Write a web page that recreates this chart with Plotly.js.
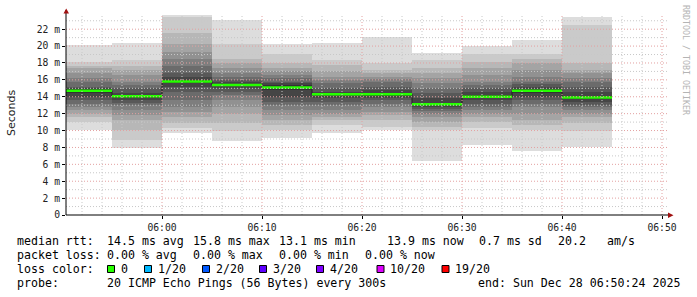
<!DOCTYPE html>
<html><head><meta charset="utf-8">
<script src="https://cdn.plot.ly/plotly-3.0.1.min.js"></script>
<style>html,body{margin:0;padding:0;background:#fff}#chart{width:697px;height:297px}</style>
</head><body><div id="chart"></div>
<script>
// ---- data ----
const blockEnds = ["05:55","06:00","06:05","06:10","06:15","06:20","06:25","06:30","06:35","06:40","06:45"];
const medianRtt = [14.7, 14.05, 15.8, 15.4, 15.1, 14.3, 14.3, 13.1, 14.0, 14.7, 13.9];
const lossCount = [0,0,0,0,0,0,0,0,0,0,0];
// sorted 20 ping round-trip times (ms) per 5-minute step
const pings0555 = [10.1,11.0,11.6,12.0,12.4,12.8,13.2,13.6,14.0,14.4,14.9,15.0,15.2,15.7,16.2,16.8,17.4,17.7,18.1,20.1];
const pings0600 = [7.9,8.9,10.1,11.2,11.8,12.4,13.0,13.3,13.6,13.9,14.2,14.4,15.0,15.4,15.8,16.6,17.2,17.6,18.4,20.4];
const pings0605 = [9.7,10.3,10.9,11.6,12.2,12.8,13.6,14.6,15.2,15.6,16.0,16.4,16.8,17.6,18.5,19.3,20.3,21.5,23.4,23.7];
const pings0610 = [8.8,9.9,10.9,12.0,12.8,13.6,14.2,14.6,15.0,15.3,15.5,15.7,16.0,16.4,16.8,17.4,18.0,18.5,20.3,23.1];
const pings0615 = [9.1,10.1,10.7,11.2,11.8,12.4,13.0,13.4,14.0,14.8,15.4,15.6,15.8,16.2,16.6,17.0,17.4,18.0,19.1,20.2];
const pings0620 = [9.7,10.7,11.2,11.6,12.0,12.4,13.0,13.4,13.8,14.2,14.4,14.6,15.0,15.6,16.0,16.4,17.0,17.8,18.3,20.4];
const pings0625 = [10.1,10.4,11.2,11.8,12.2,12.8,13.2,13.6,13.9,14.1,14.5,14.8,15.2,15.8,16.1,16.4,16.8,17.2,18.0,21.1];
const pings0630 = [6.4,10.1,10.4,11.0,11.6,12.0,12.3,12.6,12.8,13.0,13.2,13.8,14.4,15.0,15.6,16.2,16.8,17.4,18.3,19.2];
const pings0635 = [8.3,10.3,11.0,11.6,12.0,12.4,12.8,13.2,13.6,13.8,14.2,14.6,15.0,15.4,15.8,16.6,17.4,18.1,19.1,20.0];
const pings0640 = [7.6,10.1,10.7,11.2,12.0,12.8,13.2,13.6,14.0,14.5,14.9,15.2,15.5,15.8,16.4,17.2,18.0,18.5,19.1,20.7];
const pings0645 = [8.0,9.9,10.9,11.6,12.0,12.4,12.8,13.0,13.4,13.7,14.1,14.6,15.2,15.7,16.2,16.8,17.2,18.0,22.5,23.4];
const allPings = [pings0555,pings0600,pings0605,pings0610,pings0615,pings0620,pings0625,pings0630,pings0635,pings0640,pings0645];

const yTickVals = [0,2,4,6,8,10,12,14,16,18,20,22];
const yTickText = ["0","2 m","4 m","6 m","8 m","10 m","12 m","14 m","16 m","18 m","20 m","22 m"];
const xTickVals = ["06:00","06:10","06:20","06:30","06:40","06:50"];
const xTickText = ["06:00","06:10","06:20","06:30","06:40","06:50"];
const lossLabels = ["0","1/20","2/20","3/20","4/20","10/20","19/20"];
const lossLevels = [0,1,2,3,4,10,19];
const lossColors = ["#26ff00","#00b8ff","#0059ff","#5e00ff","#7e00ff","#dd00ff","#ff0000"];

const stats = {
  rtt: ["median rtt:","14.5 ms avg","15.8 ms max","13.1 ms min","13.9 ms now","0.7 ms sd","20.2","am/s"],
  loss: ["packet loss:","0.00 % avg","0.00 % max","0.00 % min","0.00 % now"],
  probe: ["probe:","20 ICMP Echo Pings (56 Bytes) every 300s","end: Sun Dec 28 06:50:24 2025"]
};

// ---- helpers ----
const DAY = [2025, 11, 28];
function hm(s){ const [h,m]=s.split(":").map(Number); return Date.UTC(DAY[0],DAY[1],DAY[2],h,m,0); }
function ds(ms){ return new Date(ms).toISOString().replace("T"," ").slice(0,19); }
const STEP = 300000;
const L=66, T=14, W=600, H=201, FW=697, FH=297;
const X = px => (px - L)/W;
const Y = py => (T + H - py)/H;
const xStart = "2025-12-28 05:50:24", xEnd = "2025-12-28 06:50:24";
const yMax = 23.8;

const traces = [];
// smoke layers (outer -> inner)
const half = 10;
for (let k=0;k<half;k++){
  const g = Math.round(190/half*(half-1-k))+50;
  const col = `rgb(${g},${g},${g})`;
  traces.push({
    type:"bar",
    x: blockEnds.map(e=>ds(hm(e)-STEP/2)),
    base: allPings.map(p=>p[k]),
    y: allPings.map(p=>p[19-k]-p[k]),
    width: blockEnds.map(()=>STEP),
    marker:{color:col, line:{width:0}},
    hoverinfo:"skip", showlegend:false
  });
}
// median step line (dark)
const stepX = blockEnds.map(e=>ds(hm(e)-STEP)).concat([ds(hm(blockEnds[blockEnds.length-1]))]);
const stepY = medianRtt.concat([medianRtt[medianRtt.length-1]]);
traces.push({type:"scatter",mode:"lines",x:stepX,y:stepY,line:{shape:"hv",color:"#202020",width:1},hoverinfo:"skip",showlegend:false});
// coloured median segments by loss
lossLevels.forEach((lv,i)=>{
  const xs=[], ys=[];
  blockEnds.forEach((e,b)=>{
    let cat=0; for(let j=0;j<lossLevels.length;j++){ if(lossCount[b]>=lossLevels[j]) cat=j; }
    if(cat===i){ xs.push(ds(hm(e)-STEP), ds(hm(e)), null); ys.push(medianRtt[b], medianRtt[b], null); }
  });
  if(xs.length) traces.push({type:"scatter",mode:"lines",x:xs,y:ys,line:{color:lossColors[i],width:2.5},hoverinfo:"skip",showlegend:false,connectgaps:false});
});

// ---- grid as shapes (drawn on top like rrdtool) ----
const shapes=[];
const minorCol="#c8c8c8", majorCol="#e3a0a0", dash="1px,2px";
for(let v=1; v<=Math.floor(yMax); v++){
  const major = yTickVals.includes(v);
  shapes.push({type:"line",xref:"paper",yref:"y",x0:0,x1:X(669),y0:v,y1:v,layer:"above",line:{color:major?majorCol:minorCol,width:1,dash:dash}});
}
for(let t=hm("05:52"); t<=hm("06:50"); t+=120000){
  const lab = ds(t).slice(11,16);
  const major = xTickVals.includes(lab);
  shapes.push({type:"line",xref:"x",yref:"paper",x0:ds(t),x1:ds(t),y0:0,y1:1,layer:"above",line:{color:major?majorCol:minorCol,width:1,dash:dash}});
}
// axes with arrows
shapes.push({type:"line",xref:"paper",yref:"paper",x0:X(66),x1:X(66),y0:Y(215),y1:Y(10),line:{color:"#000",width:1}});
shapes.push({type:"line",xref:"paper",yref:"paper",x0:X(66),x1:X(670),y0:Y(215),y1:Y(215),line:{color:"#000",width:1}});
shapes.push({type:"path",xref:"paper",yref:"paper",path:`M ${X(63.5)},${Y(13.5)} L ${X(69)},${Y(13.5)} L ${X(66.2)},${Y(8.5)} Z`,fillcolor:"#a01010",line:{width:0}});
shapes.push({type:"path",xref:"paper",yref:"paper",path:`M ${X(668)},${Y(212.5)} L ${X(668)},${Y(218)} L ${X(673.5)},${Y(215.2)} Z`,fillcolor:"#a01010",line:{width:0}});

// ---- text ----
const mono = "DejaVu Sans Mono";
const tf = {family:mono,size:11.6,color:"#000"};
const ann=[];
function txt(s,px,py,font,extra){ ann.push(Object.assign({text:s,xref:"paper",yref:"paper",x:X(px),y:Y(py),xanchor:"left",yanchor:"middle",showarrow:false,font:font||tf,borderpad:0},extra||{})); }
const rttX=[16.7,107.3,193.3,279.3,386.7,479.3,558.3,606.7];
stats.rtt.forEach((s,i)=>txt(s,rttX[i]-1,241));
const lossX=[16.7,107.3,193.3,279.3,365];
stats.loss.forEach((s,i)=>txt(s,lossX[i]-1,255));
txt("loss color:",15.7,269);
const boxX=[107.5,144.5,202.5,259.5,316.5,377,442];
lossLabels.forEach((s,i)=>{
  shapes.push({type:"rect",xref:"paper",yref:"paper",x0:X(boxX[i]),x1:X(boxX[i]+7),y0:Y(272.5),y1:Y(265.5),fillcolor:lossColors[i],line:{color:"#000",width:1}});
  txt(s,boxX[i]+12,269);
});
const probeX=[16.7,107.3,478.3];
stats.probe.forEach((s,i)=>txt(s,probeX[i]-1,283));
ann.push({text:"Seconds",xref:"paper",yref:"paper",x:X(11),y:Y(113),xanchor:"center",yanchor:"middle",textangle:-90,showarrow:false,font:{family:"DejaVu Sans",size:11,color:"#222"}});
ann.push({text:"RRDTOOL / TOBI OETIKER",xref:"paper",yref:"paper",x:X(686),y:Y(60),xanchor:"center",yanchor:"middle",textangle:90,showarrow:false,font:{family:mono,size:8.3,color:"#b4b4b4"}});

const axFont = {family:mono,size:9.7,color:"#222"};
const layout = {
  width:FW,height:FH,autosize:false,
  margin:{l:L,r:FW-L-W,t:T,b:FH-T-H,pad:0},
  paper_bgcolor:"#fff",plot_bgcolor:"#fff",
  barmode:"overlay",bargap:0,showlegend:false,
  xaxis:{type:"date",range:[xStart,xEnd],showgrid:false,zeroline:false,showline:false,
    tickmode:"array",tickvals:xTickVals.map(v=>ds(hm(v))),ticktext:xTickText,
    ticks:"outside",ticklen:3,tickcolor:"#000",tickfont:axFont,fixedrange:true},
  yaxis:{range:[0,yMax],showgrid:false,zeroline:false,showline:false,
    tickmode:"array",tickvals:yTickVals,ticktext:yTickText,
    ticks:"outside",ticklen:3,tickcolor:"#000",tickfont:axFont,fixedrange:true},
  shapes:shapes,annotations:ann
};
Plotly.newPlot("chart",traces,layout,{staticPlot:true,displayModeBar:false});
</script></body></html>
